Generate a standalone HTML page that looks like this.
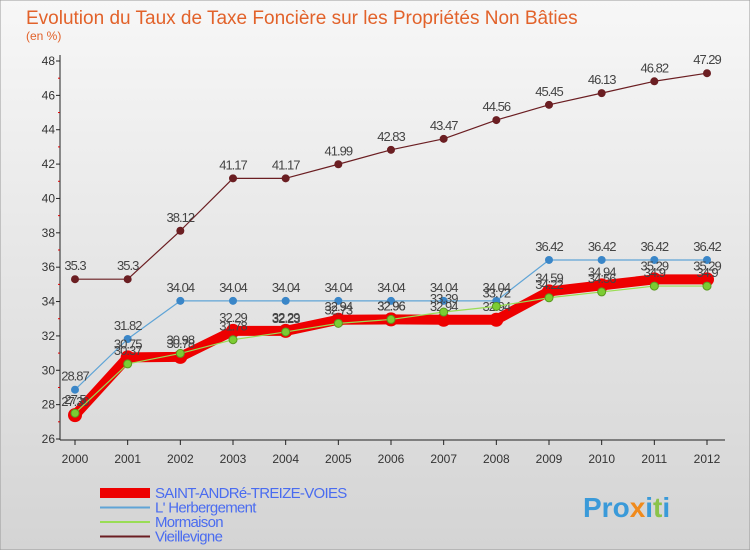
<!DOCTYPE html>
<html><head><meta charset="utf-8"><style>
body{margin:0;width:750px;height:550px;overflow:hidden;font-family:"Liberation Sans",sans-serif}
svg text{font-family:"Liberation Sans",sans-serif}
</style></head><body>
<svg id="c" width="750" height="550" xmlns="http://www.w3.org/2000/svg">
<defs><linearGradient id="bg" x1="0" y1="0" x2="0" y2="1"><stop offset="0" stop-color="#f7f7f7"/><stop offset="1" stop-color="#d4d4d4"/></linearGradient></defs>
<rect width="750" height="550" fill="url(#bg)" stroke="#999"/>
<text x="26" y="24" font-size="19" fill="#e2622a">Evolution du Taux de Taxe Foncière sur les Propriétés Non Bâties</text>
<text x="26" y="40" font-size="12" fill="#e2622a">(en %)</text>
<g id="axes"></g><g id="series"></g><g id="legend"></g>
<text x="583" y="517" font-size="28" font-weight="bold" fill="#3a9ad9">Pro<tspan fill="#f08a1c">x</tspan>i<tspan fill="#8bc34a">t</tspan>i</text>
</svg>
<script>
const years=["2000","2001","2002","2003","2004","2005","2006","2007","2008","2009","2010","2011","2012"];
const yTicks=[26,28,30,32,34,36,38,40,42,44,46,48];
const seriesNames=["SAINT-ANDRé-TREIZE-VOIES","L' Herbergement","Mormaison","Vieillevigne"];
const saintAndre=[27.39,30.75,30.78,32.29,32.29,32.94,32.96,32.94,32.94,34.59,34.94,35.29,35.29];
const herbergement=[28.87,31.82,34.04,34.04,34.04,34.04,34.04,34.04,34.04,36.42,36.42,36.42,36.42];
const mormaison=[27.5,30.37,30.98,31.78,32.23,32.73,32.96,33.39,33.72,34.22,34.56,34.9,34.9];
const vieillevigne=[35.3,35.3,38.12,41.17,41.17,41.99,42.83,43.47,44.56,45.45,46.13,46.82,47.29];
const NS="http://www.w3.org/2000/svg";
const X=i=>75+i*(707-75)/(years.length-1);
const Y=v=>439-(v-26)*(439-61)/22;
function mk(t,a,p){const e=document.createElementNS(NS,t);for(const k in a)e.setAttribute(k,a[k]);p.appendChild(e);return e;}
const ax=document.getElementById('axes');
let l=mk('line',{x1:60,y1:55,x2:60,y2:440,stroke:'#222'},ax);


l=mk('line',{x1:60,y1:440,x2:725,y2:440,stroke:'#222'},ax);


yTicks.forEach(v=>{const t=mk('text',{x:55,y:Y(v)+4,'font-size':12,'text-anchor':'end',fill:'#333'},ax);t.textContent=v;


mk('line',{x1:56,y1:Y(v),x2:60,y2:Y(v),stroke:'#222'},ax);
if(v<48)mk('line',{x1:58,y1:Y(v+1),x2:60,y2:Y(v+1),stroke:'#d00'},ax);});
years.forEach((y,i)=>{const t=mk('text',{x:X(i),y:463,'font-size':12,'text-anchor':'middle',fill:'#333'},ax);t.textContent=y;


mk('line',{x1:X(i),y1:440,x2:X(i),y2:445,stroke:'#222'},ax);});
const sg=document.getElementById('series');
const defs=[[vieillevigne,'#6b1e22',1.2,4,'#6b1e22','vieillevigne'],[herbergement,'#5fa4d6',1.2,4,'#3a86c8','herbergement'],[saintAndre,'#ee0000',10,7,'#ee0000','saint-andre'],[mormaison,'#99dd55',1.2,4,'#7ccc33','mormaison']];
defs.forEach(([d,c,w,r,fc,n])=>{const g=mk('g',{},sg);


mk('polyline',{points:d.map((v,i)=>X(i)+','+Y(v)).join(' '),fill:'none',stroke:c,'stroke-width':w,'stroke-linejoin':'round'},g);
d.forEach((v,i)=>{const p=mk('circle',{cx:X(i),cy:Y(v),r:r,fill:fc,stroke:n=='mormaison'?'#5a9a20':'none'},g);


const t=mk('text',{x:X(i),y:Y(v)-9,'font-size':13,'text-anchor':'middle',fill:'#444','letter-spacing':'-1'},g);t.textContent=v;

});});
const lg=document.getElementById('legend');
const lc=[['#ee0000',10],['#5fa4d6',2],['#99dd55',2],['#6b1e22',2]];
seriesNames.forEach((n,i)=>{const y=493+i*14.5;const g=mk('g',{},lg);


mk('line',{x1:100,y1:y,x2:150,y2:y,stroke:lc[i][0],'stroke-width':lc[i][1]},g);
const t=mk('text',{x:155,y:y+5,'font-size':15,fill:'#4a6cf0','letter-spacing':'-0.7'},g);t.textContent=n;});
</script>
</body></html>
